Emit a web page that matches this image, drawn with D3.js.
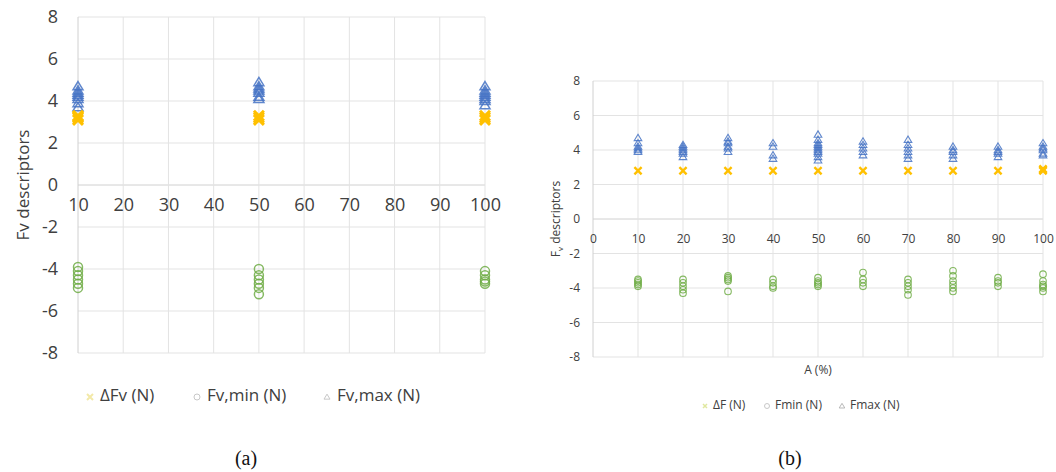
<!DOCTYPE html>
<html><head><meta charset="utf-8">
<script src="https://cdn.jsdelivr.net/npm/d3@7"></script>
<style>body{margin:0;background:#fff}svg{display:block}</style>
</head><body>
<svg id="c" width="1056" height="472"></svg>
<script>
// ---------- Data: chart (a) ----------
const leftCats = [10, 20, 30, 40, 50, 60, 70, 80, 90, 100];
const leftX = [10, 50, 100];
const leftDeltaF = [[3.1, 3.2, 3.25, 3.3], [3.1, 3.2, 3.3], [3.1, 3.2, 3.3]];
const leftFmin = [[-3.9, -4.1, -4.3, -4.5, -4.7, -4.9], [-4.0, -4.3, -4.5, -4.7, -4.9, -5.2], [-4.1, -4.3, -4.5, -4.6, -4.7]];
const leftFmax = [[3.7, 3.9, 4.1, 4.2, 4.3, 4.4, 4.5, 4.7], [4.1, 4.2, 4.4, 4.5, 4.6, 4.7, 4.9], [3.8, 4.0, 4.1, 4.2, 4.3, 4.4, 4.5, 4.7]];
const leftYTicks = [8, 6, 4, 2, 0, -2, -4, -6, -8];
const leftLegend = ["ΔFv (N)", "Fv,min (N)", "Fv,max (N)"];

// ---------- Data: chart (b) ----------
const rightX = [10, 20, 30, 40, 50, 60, 70, 80, 90, 100];
const rightXTicks = [0, 10, 20, 30, 40, 50, 60, 70, 80, 90, 100];
const rightDeltaF = [[2.8], [2.8], [2.8], [2.8], [2.8], [2.8], [2.8], [2.8], [2.8], [2.8, 2.85, 2.9]];
const rightFmax = [
  [3.9, 4.0, 4.1, 4.2, 4.4, 4.7],
  [3.6, 3.8, 3.9, 4.0, 4.1, 4.2, 4.3],
  [3.9, 4.1, 4.2, 4.4, 4.5, 4.7],
  [3.5, 3.7, 4.2, 4.4],
  [3.4, 3.6, 3.8, 3.9, 4.0, 4.1, 4.2, 4.3, 4.4, 4.6, 4.9],
  [3.7, 3.9, 4.1, 4.3, 4.5],
  [3.5, 3.7, 3.9, 4.1, 4.3, 4.6],
  [3.5, 3.7, 3.9, 4.0, 4.2],
  [3.6, 3.8, 3.9, 4.0, 4.2],
  [3.7, 3.8, 4.0, 4.1, 4.2, 4.4]
];
const rightFmin = [
  [-3.5, -3.6, -3.7, -3.8, -3.9],
  [-3.5, -3.7, -3.9, -4.1, -4.3],
  [-3.3, -3.4, -3.5, -3.6, -4.2],
  [-3.5, -3.7, -3.9, -4.0],
  [-3.4, -3.6, -3.7, -3.8, -3.9],
  [-3.1, -3.5, -3.7, -3.9],
  [-3.5, -3.7, -3.9, -4.1, -4.4],
  [-3.0, -3.3, -3.6, -3.8, -4.0, -4.2],
  [-3.4, -3.6, -3.7, -3.9],
  [-3.2, -3.6, -3.8, -3.9, -4.0, -4.2]
];
const rightYTicks = [8, 6, 4, 2, 0, -2, -4, -6, -8];
const rightLegend = ["ΔF (N)", "Fmin (N)", "Fmax (N)"];
const captions = ["(a)", "(b)"];

// ---------- Helpers ----------
const svg = d3.select("#c");
const FONT = "'Open Sans','Noto Sans',sans-serif";
const GRID = "#e3e3e3";
const C_X = "#FFC000", C_MIN = "#70AD47", C_MAX = "#4472C4";
const fmt = d => String(d);

function xPath(s) { return `M${-s},${-s}L${s},${s}M${-s},${s}L${s},${-s}`; }
function triPath(s) { const h = s * 0.95; return `M0,${-h}L${s},${h*0.75}L${-s},${h*0.75}Z`; }
function flat(xs, arr) { const out = []; xs.forEach((x, i) => arr[i].forEach(v => out.push({x, v}))); return out; }

// ================= Chart (a) =================
(function () {
  const g = svg.append("g");
  const x = d3.scalePoint().domain(leftCats).range([78, 485]);
  const y = d3.scaleLinear().domain([-8, 8]).range([353, 17]);

  g.selectAll("line.hg").data(leftYTicks).join("line")
    .attr("x1", 78).attr("x2", 485).attr("y1", d => y(d)).attr("y2", d => y(d))
    .attr("stroke", d => d === 0 ? "#d0d0d0" : GRID).attr("stroke-width", 1);
  g.selectAll("line.vg").data(leftCats).join("line")
    .attr("x1", d => x(d)).attr("x2", d => x(d)).attr("y1", y(8)).attr("y2", y(-8))
    .attr("stroke", (d, i) => i === 0 ? "#d0d0d0" : GRID).attr("stroke-width", 1);

  const ya = d3.axisLeft(y).tickValues(leftYTicks).tickSize(0).tickPadding(0).tickFormat(fmt);
  g.append("g").attr("transform", "translate(58,0)").call(ya)
    .call(s => s.select(".domain").remove())
    .selectAll("text").attr("font-family", FONT).attr("font-size", 18).attr("fill", "#404040");

  const xa = d3.axisBottom(x).tickSize(0).tickPadding(0).tickFormat(fmt);
  g.append("g").attr("transform", `translate(0,${y(0) + 20})`).call(xa)
    .call(s => s.select(".domain").remove())
    .selectAll("text").attr("font-family", FONT).attr("font-size", 18).attr("fill", "#404040").attr("dy", "0.32em");

  g.append("text").attr("transform", `translate(23,${y(0)}) rotate(-90)`)
    .attr("text-anchor", "middle").attr("dy", "0.35em")
    .attr("font-family", FONT).attr("font-size", 17).attr("fill", "#404040").text("Fv descriptors");

  g.selectAll("path.mx").data(flat(leftX, leftFmax)).join("path")
    .attr("d", triPath(5)).attr("transform", d => `translate(${x(d.x)},${y(d.v)})`)
    .attr("fill", "none").attr("stroke", C_MAX).attr("stroke-width", 1.5).attr("opacity", 0.85);
  g.selectAll("circle.mn").data(flat(leftX, leftFmin)).join("circle")
    .attr("cx", d => x(d.x)).attr("cy", d => y(d.v)).attr("r", 4.5)
    .attr("fill", "none").attr("stroke", C_MIN).attr("stroke-width", 1.5).attr("opacity", 0.85);
  g.selectAll("path.df").data(flat(leftX, leftDeltaF)).join("path")
    .attr("d", xPath(5)).attr("transform", d => `translate(${x(d.x)},${y(d.v)})`)
    .attr("fill", "none").attr("stroke", C_X).attr("stroke-width", 3);

  // legend
  const lg = g.append("g").attr("transform", "translate(0,395)");
  const lx = [100, 207, 337];
  lg.append("path").attr("d", xPath(3)).attr("transform", `translate(${lx[0]-10},2)`).attr("stroke", "#f3e9a8").attr("stroke-width", 2);
  lg.append("circle").attr("cx", lx[1]-10).attr("cy", 2).attr("r", 3).attr("fill", "none").attr("stroke", "#c8c8c8");
  lg.append("path").attr("d", triPath(3)).attr("transform", `translate(${lx[2]-10},2)`).attr("fill", "none").attr("stroke", "#c8c8c8");
  lg.selectAll("text").data(leftLegend).join("text")
    .attr("x", (d, i) => lx[i]).attr("y", 0).attr("dy", "0.35em")
    .attr("font-family", FONT).attr("font-size", 17).attr("fill", "#404040").text(d => d);
})();

// ================= Chart (b) =================
(function () {
  const g = svg.append("g");
  const x = d3.scaleLinear().domain([0, 100]).range([593, 1043]);
  const y = d3.scaleLinear().domain([-8, 8]).range([357, 81]);

  g.selectAll("line.hg").data(rightYTicks).join("line")
    .attr("x1", x(0)).attr("x2", x(100)).attr("y1", d => y(d)).attr("y2", d => y(d))
    .attr("stroke", d => d === 0 ? "#d0d0d0" : GRID).attr("stroke-width", 1);
  g.selectAll("line.vg").data(rightXTicks).join("line")
    .attr("x1", d => x(d)).attr("x2", d => x(d)).attr("y1", y(8)).attr("y2", y(-8))
    .attr("stroke", d => d === 0 ? "#d0d0d0" : GRID).attr("stroke-width", 1);

  const ya = d3.axisLeft(y).tickValues(rightYTicks).tickSize(0).tickPadding(0).tickFormat(fmt);
  g.append("g").attr("transform", "translate(580,0)").call(ya)
    .call(s => s.select(".domain").remove())
    .selectAll("text").attr("font-family", FONT).attr("font-size", 12).attr("fill", "#404040");

  const xa = d3.axisBottom(x).tickValues(rightXTicks).tickSize(0).tickPadding(0).tickFormat(fmt);
  g.append("g").attr("transform", `translate(0,${y(0) + 20})`).call(xa)
    .call(s => s.select(".domain").remove())
    .selectAll("text").attr("font-family", FONT).attr("font-size", 12).attr("fill", "#404040").attr("dy", "0.32em");

  const yt = g.append("text").attr("transform", `translate(556,${y(0)}) rotate(-90)`)
    .attr("text-anchor", "middle").attr("dy", "0.35em")
    .attr("font-family", FONT).attr("font-size", 12).attr("fill", "#404040");
  yt.append("tspan").text("F");
  yt.append("tspan").attr("font-size", 8).attr("dy", "0.3em").text("v");
  yt.append("tspan").attr("dy", "-0.2em").text(" descriptors");

  g.append("text").attr("x", x(50)).attr("y", 370).attr("text-anchor", "middle").attr("dy", "0.35em")
    .attr("font-family", FONT).attr("font-size", 12).attr("fill", "#404040").text("A (%)");

  g.selectAll("path.mx").data(flat(rightX, rightFmax)).join("path")
    .attr("d", triPath(3.8)).attr("transform", d => `translate(${x(d.x)},${y(d.v)})`)
    .attr("fill", "none").attr("stroke", C_MAX).attr("stroke-width", 1.1).attr("opacity", 0.85);
  g.selectAll("circle.mn").data(flat(rightX, rightFmin)).join("circle")
    .attr("cx", d => x(d.x)).attr("cy", d => y(d.v)).attr("r", 3.3)
    .attr("fill", "none").attr("stroke", C_MIN).attr("stroke-width", 1.1).attr("opacity", 0.85);
  g.selectAll("path.df").data(flat(rightX, rightDeltaF)).join("path")
    .attr("d", xPath(3.6)).attr("transform", d => `translate(${x(d.x)},${y(d.v)})`)
    .attr("fill", "none").attr("stroke", C_X).attr("stroke-width", 2.4);

  const lg = g.append("g").attr("transform", "translate(0,405)");
  const lx = [713, 775, 850];
  lg.append("path").attr("d", xPath(2)).attr("transform", `translate(${lx[0]-8},1)`).attr("stroke", "#e0e8a0").attr("stroke-width", 1.5);
  lg.append("circle").attr("cx", lx[1]-8).attr("cy", 1).attr("r", 2.5).attr("fill", "none").attr("stroke", "#c8c8c8");
  lg.append("path").attr("d", triPath(2.8)).attr("transform", `translate(${lx[2]-8},1)`).attr("fill", "none").attr("stroke", "#b8b8b8");
  lg.selectAll("text").data(rightLegend).join("text")
    .attr("x", (d, i) => lx[i]).attr("y", 0).attr("dy", "0.35em")
    .attr("font-family", FONT).attr("font-size", 12).attr("fill", "#404040").text(d => d);
})();

// captions
svg.selectAll("text.cap").data(captions).join("text")
  .attr("x", (d, i) => [246, 790][i]).attr("y", 458).attr("text-anchor", "middle").attr("dy", "0.35em")
  .attr("font-family", "'Liberation Serif','DejaVu Serif',serif").attr("font-size", 20).attr("fill", "#111")
  .text(d => d);
</script>
</body></html>
